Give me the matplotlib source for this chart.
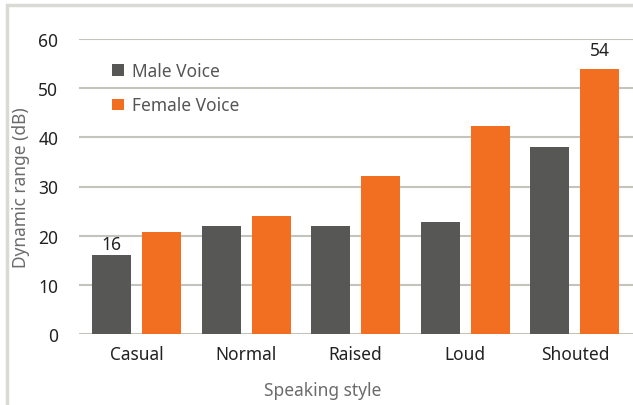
import matplotlib.pyplot as plt
from matplotlib.patches import Rectangle
import numpy as np

styles = ['Casual', 'Normal', 'Raised', 'Loud', 'Shouted']
male = [16, 22, 22, 22.8, 38]
female = [20.7, 24, 32.1, 42.3, 54]

plt.rcParams['font.family'] = ['Noto Sans', 'DejaVu Sans']

fig = plt.figure(figsize=(6.33, 4.06), dpi=100)
W, H = 633, 406
ax = fig.add_axes([79 / W, (H - 335) / H, (633 - 79) / W, (335 - 40) / H])

x = np.arange(len(styles))
w = 0.356
off = 0.228
ax.bar(x - off, male, w, color='#575755', label='Male Voice', zorder=3)
ax.bar(x + off, female, w, color='#f26f21', label='Female Voice', zorder=3)

ax.set_xlim(-0.525, 4.53)
ax.set_ylim(0, 60)
ax.set_yticks(range(0, 61, 10))
ax.set_xticks(x)
ax.set_xticklabels(styles)
ax.tick_params(length=0, labelsize=12.5, labelcolor='#222222')
ax.tick_params(axis='x', pad=8)
ax.tick_params(axis='y', pad=15)
ax.grid(axis='y', color='#c4c4bc', linewidth=1.5, zorder=0)
for s in ax.spines.values():
    s.set_visible(False)

ax.set_ylabel('Dynamic range (dB)', fontsize=12.5, color='#6b6b6b')
ax.yaxis.set_label_coords(-0.088, 0.5)
ax.set_xlabel('Speaking style', fontsize=12.5, color='#6b6b6b')
ax.xaxis.set_label_coords(0.44, -0.16)

ax.annotate('16', (0 - off, male[0]), xytext=(0, 2), textcoords='offset points',
            ha='center', va='bottom', fontsize=12.5, color='#222222')
ax.annotate('54', (4 + off, female[4]), xytext=(0, 7), textcoords='offset points',
            ha='center', va='bottom', fontsize=12.5, color='#222222')

ax.legend(loc='upper left', bbox_to_anchor=(0.032, 0.975), frameon=False, fontsize=12.5,
          handlelength=0.65, handleheight=0.65, handletextpad=0.5, labelspacing=0.95,
          labelcolor='#555555')

# light frame at left and top
fig.add_artist(Rectangle((7 / W, -0.1), 1.2, 1.1 - 6 / H, transform=fig.transFigure,
                         fill=False, edgecolor='#d9d9d5', linewidth=2.5))

fig.savefig('out.png', dpi=100)
